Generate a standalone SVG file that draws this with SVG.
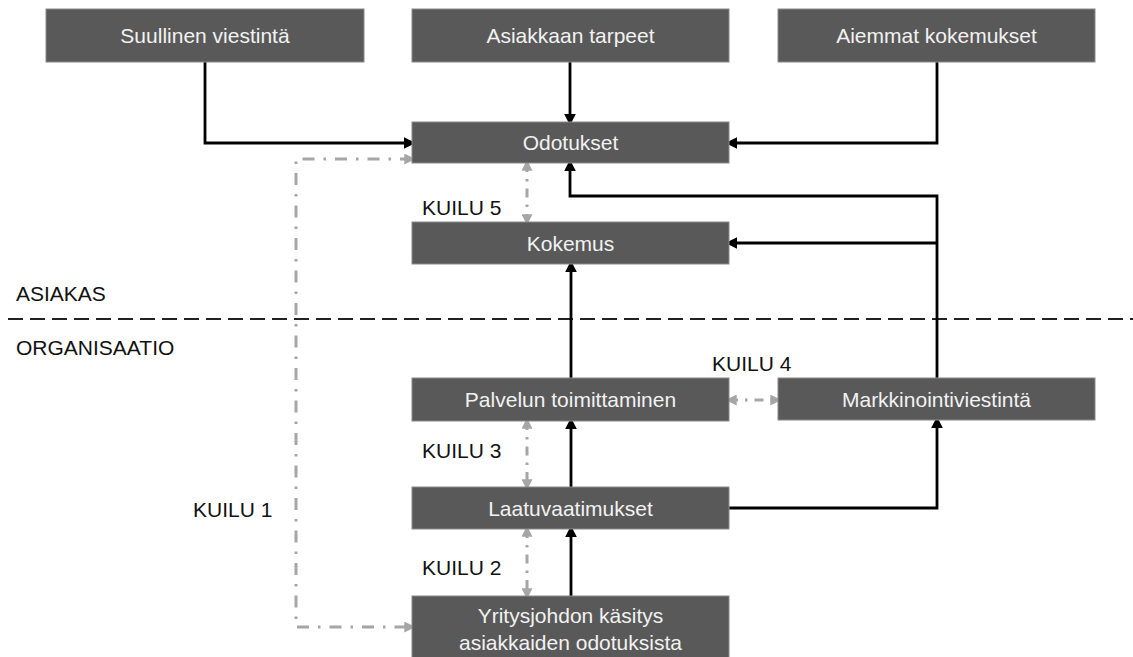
<svg xmlns="http://www.w3.org/2000/svg" width="1133" height="657" viewBox="0 0 1133 657">
<style>
.box{fill:#595959;stroke:#8a8a8a;stroke-width:1}
.bt{font-family:"Liberation Sans",Arial,sans-serif;font-size:21px;fill:#f2f2f2;text-anchor:middle}
.lbl{font-family:"Liberation Sans",Arial,sans-serif;font-size:21px;fill:#111}
.blk{fill:none;stroke:#000;stroke-width:2.8}
.gry{fill:none;stroke:#a6a6a6;stroke-width:3;stroke-dasharray:12 9 2.5 9}
.gap{fill:none;stroke:#a6a6a6;stroke-width:3;stroke-dasharray:9 7 2.5 7}
</style>
<defs>
<marker id="ab" viewBox="0 0 10 10" refX="7" refY="5" markerWidth="12" markerHeight="12" markerUnits="userSpaceOnUse" orient="auto">
<path d="M0,0 L10,5 L0,10 z" fill="#000"/>
</marker>
<marker id="ag" viewBox="0 0 10 10" refX="7" refY="5" markerWidth="11" markerHeight="11" markerUnits="userSpaceOnUse" orient="auto-start-reverse">
<path d="M0,0 L10,5 L0,10 z" fill="#a6a6a6"/>
</marker>
</defs>
<rect width="1133" height="657" fill="#fff"/>
<g id="separator">
<line x1="8" y1="319" x2="1133" y2="319" stroke="#222" stroke-width="2" stroke-dasharray="15 7"/>
<text class="lbl" x="16" y="300.5">ASIAKAS</text>
<text class="lbl" x="16" y="354.5">ORGANISAATIO</text>
</g>
<g id="connectors">
<path class="blk" d="M205 62 V143 H412" marker-end="url(#ab)"/>
<path class="blk" d="M570 62 V122" marker-end="url(#ab)"/>
<path class="blk" d="M937 62 V143 H729" marker-end="url(#ab)"/>
<path class="blk" d="M937 378 V196 H570 V163" marker-end="url(#ab)"/>
<path class="blk" d="M937 243 H729" marker-end="url(#ab)"/>
<path class="blk" d="M571 378 V264" marker-end="url(#ab)"/>
<path class="blk" d="M571 487 V421" marker-end="url(#ab)"/>
<path class="blk" d="M571 596 V529" marker-end="url(#ab)"/>
<path class="blk" d="M729 508 H937 V420" marker-end="url(#ab)"/>
<path class="gry" d="M412 159 H296 V627 H412" marker-start="url(#ag)" marker-end="url(#ag)"/>
<path class="gap" d="M527 163 V222" marker-start="url(#ag)" marker-end="url(#ag)"/>
<path class="gap" d="M527 421 V487" marker-start="url(#ag)" marker-end="url(#ag)"/>
<path class="gap" d="M527 529 V596" marker-start="url(#ag)" marker-end="url(#ag)"/>
<path class="gap" d="M729 400 H778" marker-start="url(#ag)" marker-end="url(#ag)"/>
</g>
<g id="labels">
<text class="lbl" x="422" y="214.5">KUILU 5</text>
<text class="lbl" x="712" y="370.5">KUILU 4</text>
<text class="lbl" x="422" y="457.5">KUILU 3</text>
<text class="lbl" x="422" y="574.5">KUILU 2</text>
<text class="lbl" x="193" y="516.5">KUILU 1</text>
</g>
<g id="suullinen"><rect class="box" x="46" y="9" width="318" height="53"/><text class="bt" x="205" y="43">Suullinen viestintä</text></g>
<g id="tarpeet"><rect class="box" x="412" y="9" width="317" height="53"/><text class="bt" x="570.5" y="43">Asiakkaan tarpeet</text></g>
<g id="aiemmat"><rect class="box" x="778" y="9" width="317" height="53"/><text class="bt" x="936.5" y="43">Aiemmat kokemukset</text></g>
<g id="odotukset"><rect class="box" x="412" y="122" width="317" height="41"/><text class="bt" x="570.5" y="150">Odotukset</text></g>
<g id="kokemus"><rect class="box" x="412" y="222" width="317" height="42"/><text class="bt" x="570.5" y="250.5">Kokemus</text></g>
<g id="palvelun"><rect class="box" x="412" y="378" width="317" height="43"/><text class="bt" x="570.5" y="407">Palvelun toimittaminen</text></g>
<g id="markkinointi"><rect class="box" x="778" y="378" width="317" height="42"/><text class="bt" x="936.5" y="406.5">Markkinointiviestintä</text></g>
<g id="laatu"><rect class="box" x="412" y="487" width="317" height="42"/><text class="bt" x="570.5" y="515.5">Laatuvaatimukset</text></g>
<g id="yritysjohto"><rect class="box" x="412" y="596" width="317" height="64"/><text class="bt" x="570.5" y="622.5">Yritysjohdon käsitys</text><text class="bt" x="570.5" y="649.5">asiakkaiden odotuksista</text></g>
</svg>
